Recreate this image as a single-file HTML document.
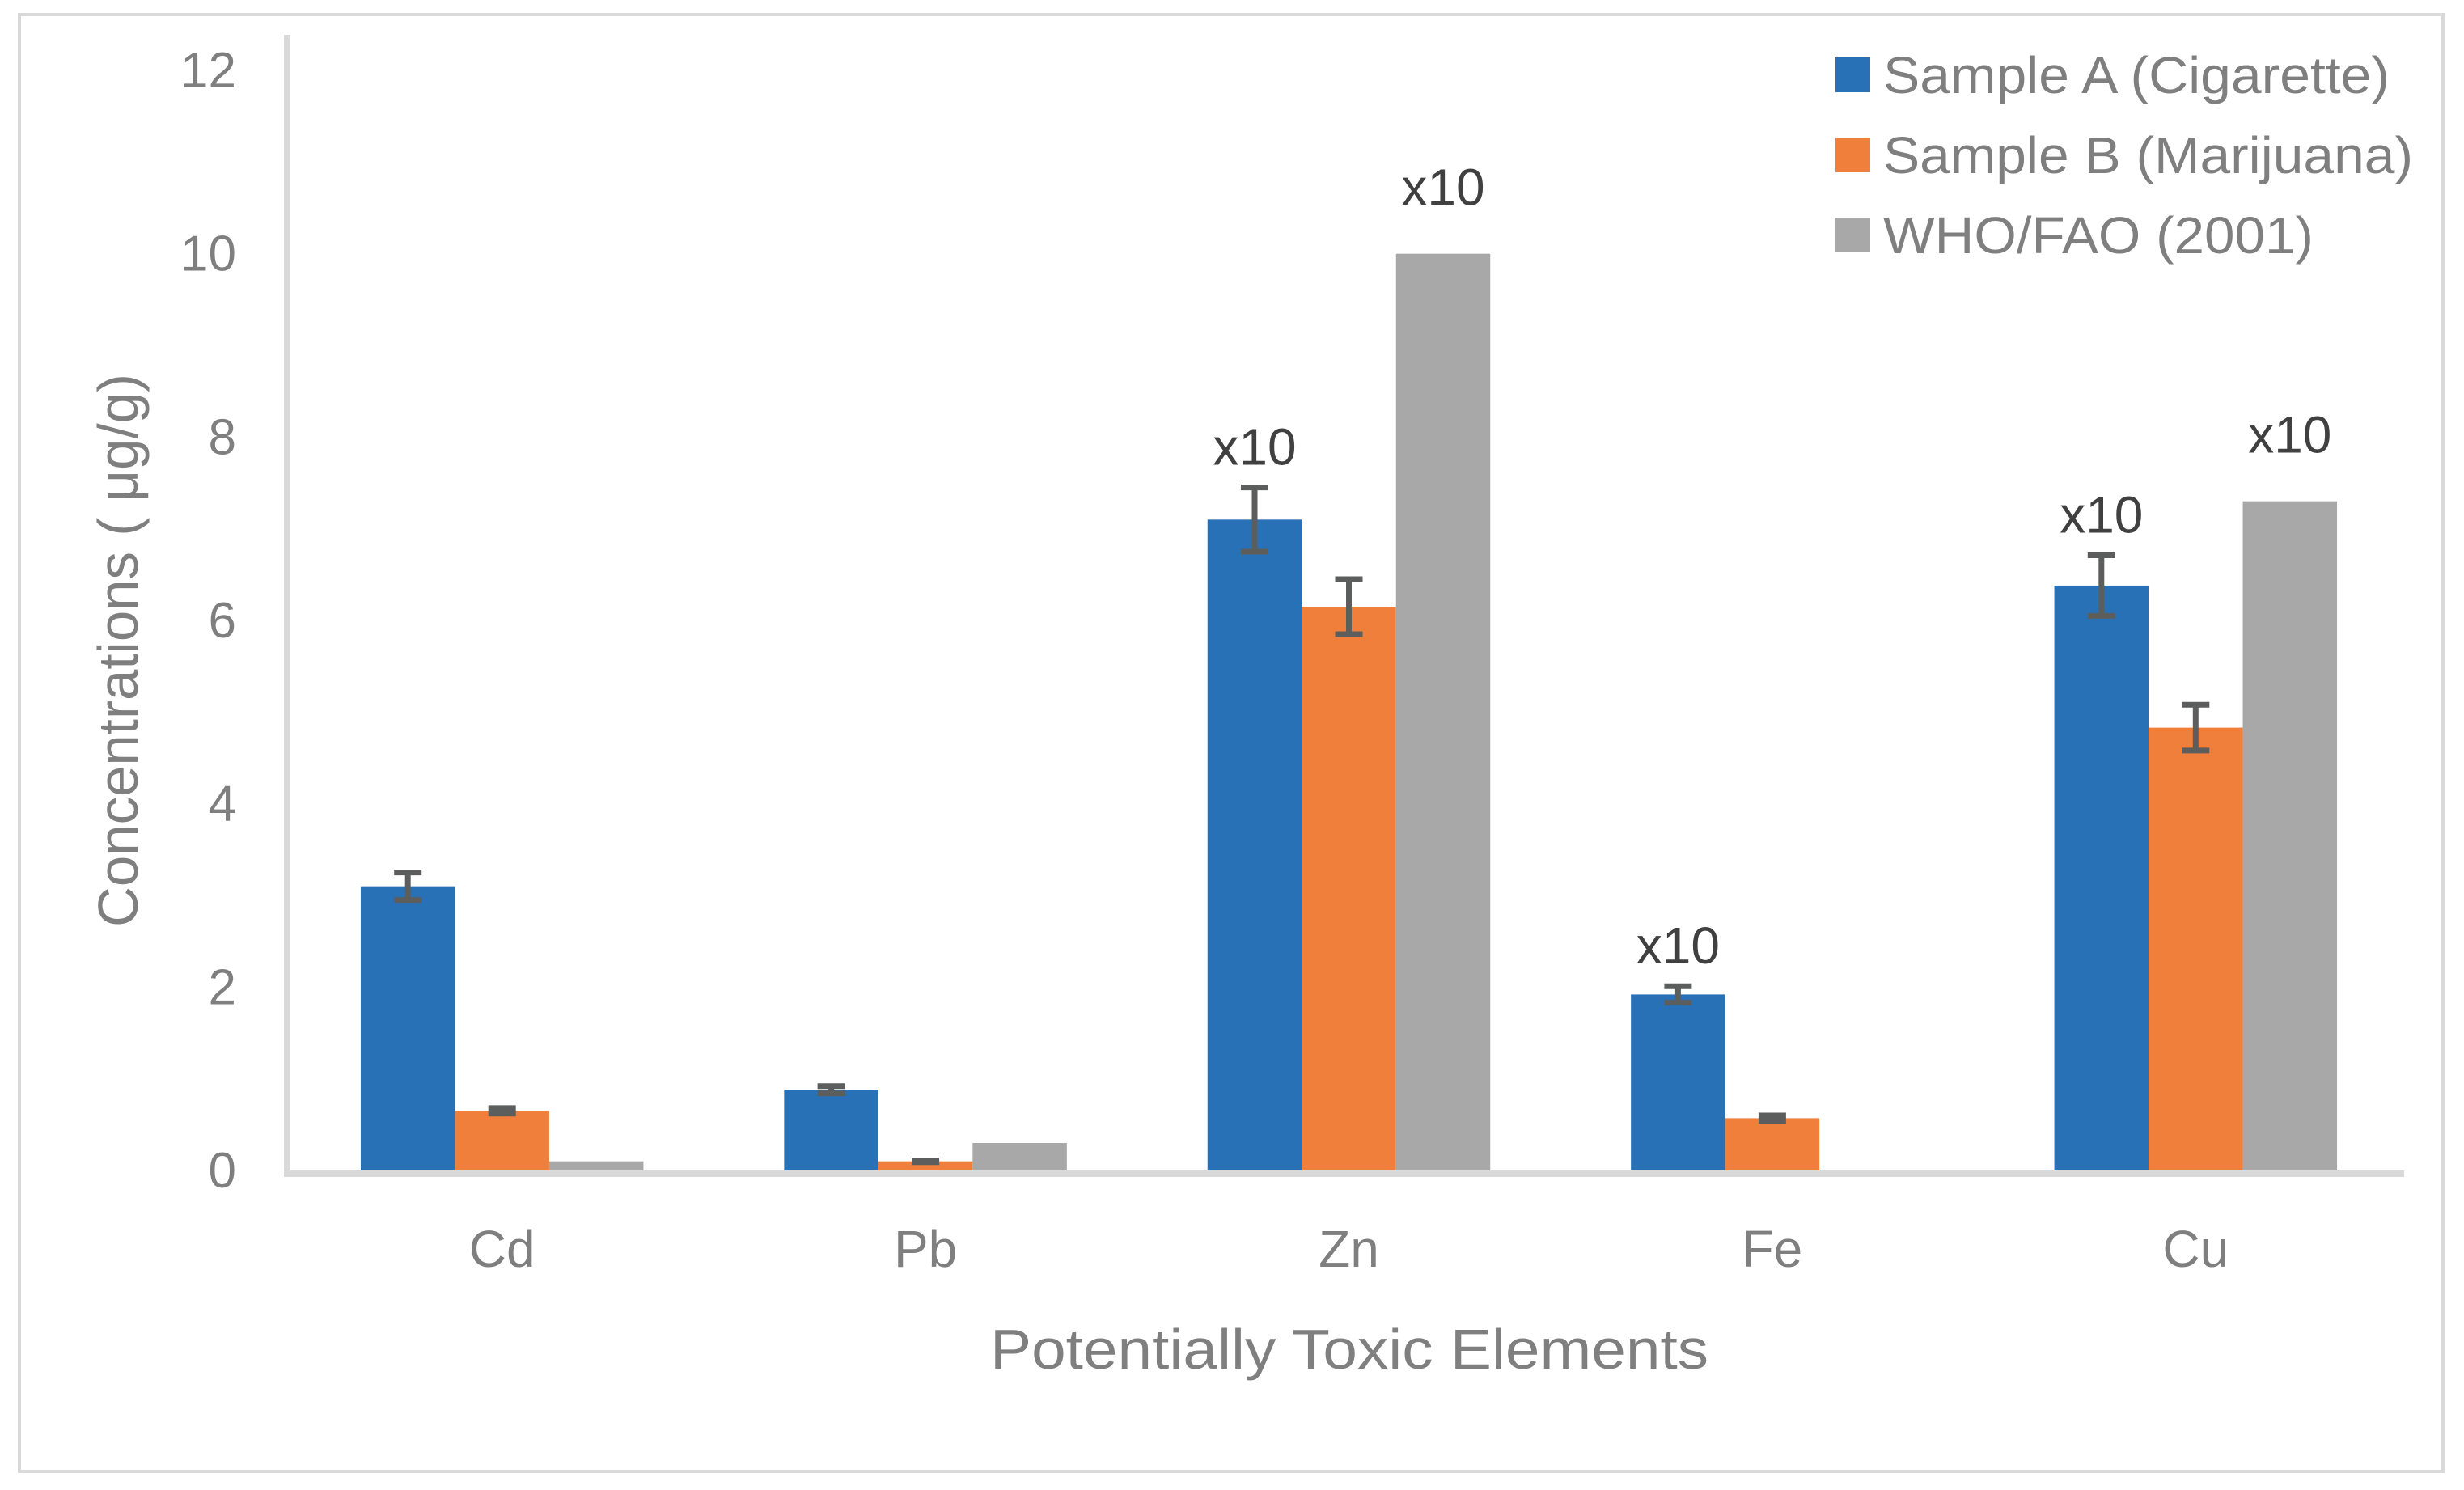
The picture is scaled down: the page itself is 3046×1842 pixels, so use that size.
<!DOCTYPE html>
<html><head><meta charset="utf-8"><style>
html,body{margin:0;padding:0;background:#fff;}
svg{display:block;}
text{font-family:"Liberation Sans",sans-serif;fill:#7f7f7f;}
</style></head><body>
<svg id="chart" width="3046" height="1842" viewBox="0 0 3046 1842">
<rect x="24" y="18" width="2996" height="1801" fill="#fff" stroke="#d9d9d9" stroke-width="4"/>
<g id="plot"></g>
</svg>
<script>
const categories = ["Cd","Pb","Zn","Fe","Cu"];
const seriesNames = ["Sample A (Cigarette)","Sample B (Marijuana)","WHO/FAO (2001)"];
const sampleA = [3.1, 0.88, 7.1, 1.92, 6.38];
const sampleB = [0.65, 0.1, 6.15, 0.57, 4.83];
const whoFao = [0.1, 0.3, 10, 0, 7.3];
const errA = [0.15, 0.04, 0.35, 0.09, 0.33];
const errB = [0.03, 0.01, 0.3, 0.03, 0.25];
const yTicks = [0,2,4,6,8,10,12];
const x10A = [false, false, true, true, true];
const x10W = [false, false, true, false, true];

const NS = "http://www.w3.org/2000/svg";
const svg = document.getElementById("plot");
const colors = ["#2971b7","#ef7f3a","#a8a8a8"];
const legendLens = [626, 655, 532];
const X0 = 355, X1 = 2972, Y0 = 1447, Y12 = 87;
const groupW = (X1 - X0) / categories.length;
const barW = 116.5;
function yScale(v){ return Y0 - (Y0 - Y12) * v / 12; }
function groupCenter(i){ return X0 + groupW * (i + 0.5) + 4; }
function mk(tag, attrs, txt){
  const e = document.createElementNS(NS, tag);
  for (const k in attrs) e.setAttribute(k, attrs[k]);
  if (txt !== undefined) e.textContent = txt;
  svg.appendChild(e);
  return e;
}
yTicks.forEach(t => {
  const e = mk("text", {x: 292, y: yScale(t) + 21, "text-anchor": "end", "font-size": 62}, String(t));
  
  
});
const series = [sampleA, sampleB, whoFao];
const errs = [errA, errB, null];
series.forEach((vals, s) => {
  vals.forEach((v, i) => {
    const x = groupCenter(i) + (s - 1.5) * barW;
    const r = mk("rect", {x: x, y: yScale(v), width: barW, height: Y0 - yScale(v), fill: colors[s]});
    
    
    if (errs[s]) {
      const e = errs[s][i], cx = x + barW / 2;
      const g = mk("path", {d: `M${cx-17},${yScale(v+e)}H${cx+17}M${cx},${yScale(v+e)}V${yScale(v-e)}M${cx-17},${yScale(v-e)}H${cx+17}`, stroke: "#5c5e5d", "stroke-width": 7, fill: "none"});
      
      
    }
  });
});
categories.forEach((c, i) => {
  if (x10A[i]) {
    const t = mk("text", {x: groupCenter(i) - barW, y: yScale(sampleA[i] + errA[i]) - 28, "text-anchor": "middle", "font-size": 64, style: "fill:#404040"}, "x10");
    
    
  }
  if (x10W[i]) {
    const t = mk("text", {x: groupCenter(i) + barW, y: yScale(whoFao[i]) - 60, "text-anchor": "middle", "font-size": 64, style: "fill:#404040"}, "x10");
    
    
  }
  const l = mk("text", {x: groupCenter(i), y: 1566, "text-anchor": "middle", "font-size": 64}, c);
  
  
});
const ax = mk("path", {d: `M${X0},43V${Y0+4}H${X1}`, stroke: "#d9d9d9", "stroke-width": 8, fill: "none"});


const xt = mk("text", {x: 1668, y: 1692, "text-anchor": "middle", "font-size": 70, textLength: 888, lengthAdjust: "spacingAndGlyphs"}, "Potentially Toxic Elements");


const yt = mk("text", {x: 0, y: 0, "text-anchor": "middle", "font-size": 70, textLength: 684, lengthAdjust: "spacingAndGlyphs", transform: "translate(170,804) rotate(-90)"}, "Concentrations ( μg/g)");


seriesNames.forEach((n, s) => {
  const y = 93 + s * 99;
  const r = mk("rect", {x: 2269, y: y - 22, width: 43, height: 43, fill: colors[s]});
  
  
  const t = mk("text", {x: 2328, y: y + 22, "font-size": 64, textLength: legendLens[s], lengthAdjust: "spacingAndGlyphs"}, n);
  
  
});
</script>
</body></html>
